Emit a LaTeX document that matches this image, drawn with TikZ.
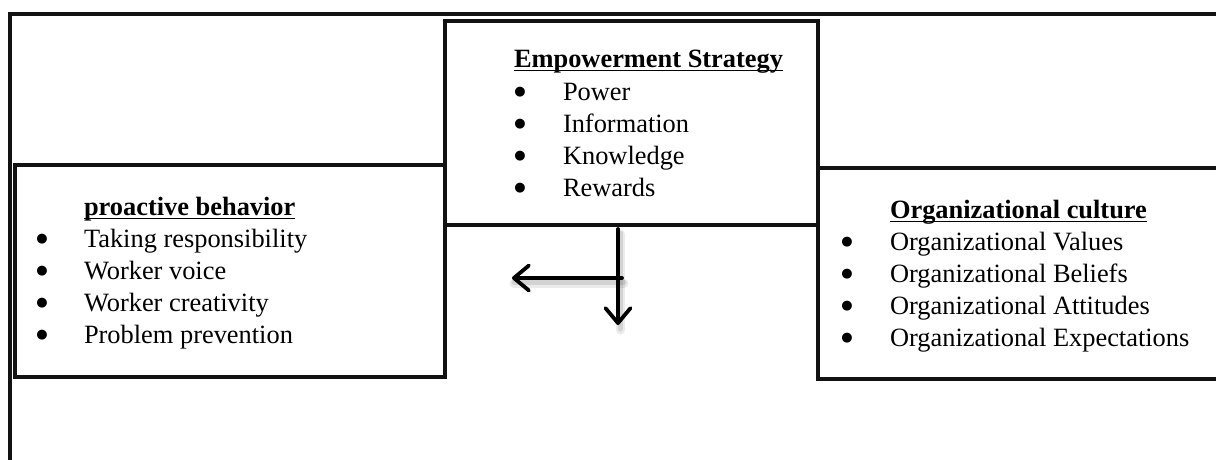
\documentclass[tikz,border=0pt]{standalone}
\usepackage{fontspec}
\setmainfont{Liberation Serif}
\newfontfamily\symfont{DejaVu Sans}
\usetikzlibrary{arrows.meta}

\begin{document}
\begin{tikzpicture}[x=1pt,y=-1pt,
  every node/.style={inner sep=0pt,outer sep=0pt},
  frameline/.style={line width=3.8pt,line join=miter,draw=black!93},
  panel/.style={frameline,draw,rectangle,anchor=north west},
  txt/.style={anchor=base west,font=\fontsize{26.4}{32}\selectfont},
  head/.style={txt,font=\fontsize{26.4}{32}\selectfont\bfseries},
  dot/.style={anchor=center,font=\symfont\fontsize{13}{14}\selectfont},
  uline/.style={line width=1.6pt},
  flow/.style={line width=3.8pt,line cap=round,
    -{Straight Barb[length=15pt,width=25pt,line width=3.8pt,round]}},
  haze/.style={line width=9pt,line cap=round,draw=black,opacity=0.08,
    transform canvas={xshift=2pt,yshift=-5pt}},
  haze2/.style={line width=5pt,line cap=round,draw=black,opacity=0.10,
    transform canvas={xshift=2pt,yshift=-4pt}}
]
\useasboundingbox (0,0) rectangle (1216,459);
\clip (0,0) rectangle (1216,459);

% outer frame (runs past the right and bottom edges)
\node[panel,minimum width=1240pt,minimum height=480pt] (frame) at (10,14) {};

% the three panels
\node[panel,minimum width=373pt,minimum height=204pt] (emp) at (445,21) {};
\node[panel,minimum width=430pt,minimum height=212pt] (pro) at (15,165) {};
\node[panel,minimum width=430pt,minimum height=211pt] (org) at (818,168) {};

% Empowerment Strategy
\node[head] (empH) at (514,67) {Empowerment Strategy};
\draw[uline] ([yshift=-3.5pt]empH.base west) -- ([yshift=-3.5pt]empH.base east);
\foreach \t [count=\i] in {Power,Information,Knowledge,Rewards}{
  \node[dot] (empB\i) at (520,{60+32*\i}) {●};
  \node[txt] (empT\i) at (563,{68+32*\i}) {\t};
}

% proactive behavior
\node[head] (proH) at (84,215) {proactive behavior};
\draw[uline] ([yshift=-3.5pt]proH.base west) -- ([yshift=-3.5pt]proH.base east);
\foreach \t [count=\i] in {Taking responsibility,Worker voice,Worker creativity,Problem prevention}{
  \node[dot] (proB\i) at (42,{207+32*\i}) {●};
  \node[txt] (proT\i) at (84,{215+32*\i}) {\t};
}

% Organizational culture
\node[head] (orgH) at (890,218) {Organizational culture};
\draw[uline] ([yshift=-3.5pt]orgH.base west) -- ([yshift=-3.5pt]orgH.base east);
\foreach \t [count=\i] in {Organizational Values,Organizational Beliefs,Organizational Attitudes,Organizational Expectations}{
  \node[dot] (orgB\i) at (847,{210+32*\i}) {●};
  \node[txt] (orgT\i) at (890,{218+32*\i}) {\t};
}

% arrows leaving the strategy panel
\coordinate (split) at (618,229);
\coordinate (branch) at (622,278);
\coordinate (downEnd) at (618,325);
\coordinate (leftEnd) at (512,278);

\draw[haze] (split) -- (downEnd);
\draw[haze] (branch) -- (leftEnd);
\draw[haze2] (split) -- (downEnd);
\draw[haze2] (branch) -- (leftEnd);

\draw[flow] (split) -- (downEnd);
\draw[flow] (branch) -- (leftEnd);
\end{tikzpicture}
\end{document}
